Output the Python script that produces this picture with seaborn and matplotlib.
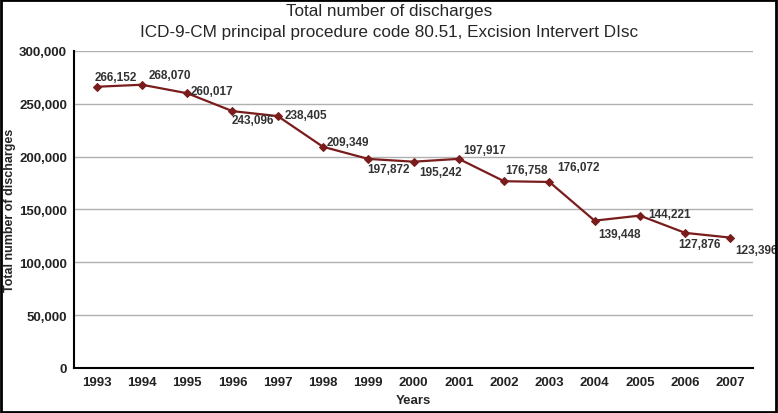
import matplotlib
matplotlib.use("Agg")
import matplotlib.pyplot as plt
import matplotlib.patches as mpatches
import seaborn as sns
import pandas as pd
from matplotlib.ticker import FuncFormatter, MultipleLocator

years = ["1993", "1994", "1995", "1996", "1997", "1998", "1999", "2000",
         "2001", "2002", "2003", "2004", "2005", "2006", "2007"]
discharges = [266152, 268070, 260017, 243096, 238405, 209349, 197872, 195242,
              197917, 176758, 176072, 139448, 144221, 127876, 123396]
value_labels = ["266,152", "268,070", "260,017", "243,096", "238,405", "209,349",
                "197,872", "195,242", "197,917", "176,758", "176,072", "139,448",
                "144,221", "127,876", "123,396"]

# label offsets in pixels (dx to left edge, dy up)
label_dx = [-2, 7, 3, -1, 7, 4, -1, 6, 4, 1, 8, 4, 8, -7, 5]
label_dy = [10, 10, 2, -9, 1, 5, -10, -10, 9, 11, 15, -13, 2, -11, -12]

sns.set_style("white")
plt.rcParams['font.family'] = ['Liberation Sans', 'DejaVu Sans']

df = pd.DataFrame({"idx": range(len(years)), "value": discharges})

fig = plt.figure(figsize=(7.78, 4.14), dpi=100)
ax = fig.add_axes([0.0951, 0.1087, 0.8728, 0.7657])

line_color = "#7a1c1c"
sns.lineplot(data=df, x="idx", y="value", ax=ax, color=line_color, linewidth=1.6,
             marker="D", markersize=4, markeredgecolor=line_color,
             markerfacecolor=line_color)

for i, (v, lab) in enumerate(zip(discharges, value_labels)):
    ax.annotate(lab, (i, v), xytext=(label_dx[i], label_dy[i]), textcoords="offset pixels",
                ha="left", va="center", fontsize=8.5, fontweight="bold", color="#333333")

ax.set_ylim(0, 300000)
ax.set_xlim(-0.5, 14.5)
ax.yaxis.set_major_locator(MultipleLocator(50000))
ax.yaxis.set_major_formatter(FuncFormatter(lambda v, p: f"{int(v):,}"))
ax.set_xticks(range(len(years)))
ax.set_xticklabels(years)
ax.grid(axis="y", color="#b0b0b0", linewidth=1)
ax.set_axisbelow(True)
for s in ["top", "right"]:
    ax.spines[s].set_visible(False)
for s in ["left", "bottom"]:
    ax.spines[s].set_color("black")
    ax.spines[s].set_linewidth(1.5)
ax.tick_params(axis="both", which="both", direction="out", length=3, width=1,
               colors="black", labelsize=9.5)
ax.tick_params(axis="x", pad=3)
ax.tick_params(axis="y", pad=2)
for t in ax.get_xticklabels() + ax.get_yticklabels():
    t.set_fontweight("bold")
    t.set_color("#222222")
ax.set_xlabel("Years", fontsize=9.5, fontweight="bold", labelpad=4)
ax.set_ylabel("Total number of discharges", fontsize=9, fontweight="bold", va="center")
ax.yaxis.set_label_coords(-0.094, 0.5)

fig.text(0.5, 0.99, "Total number of discharges", ha="center", va="top", fontsize=12.3)
fig.text(0.5, 0.94, "ICD-9-CM principal procedure code 80.51, Excision Intervert DIsc",
         ha="center", va="top", fontsize=12.3)

fig.patches.append(mpatches.Rectangle((0.001, 0.002), 0.997, 0.995, transform=fig.transFigure,
                                      fill=False, edgecolor="black", linewidth=2))

fig.savefig("out.png", dpi=100)
